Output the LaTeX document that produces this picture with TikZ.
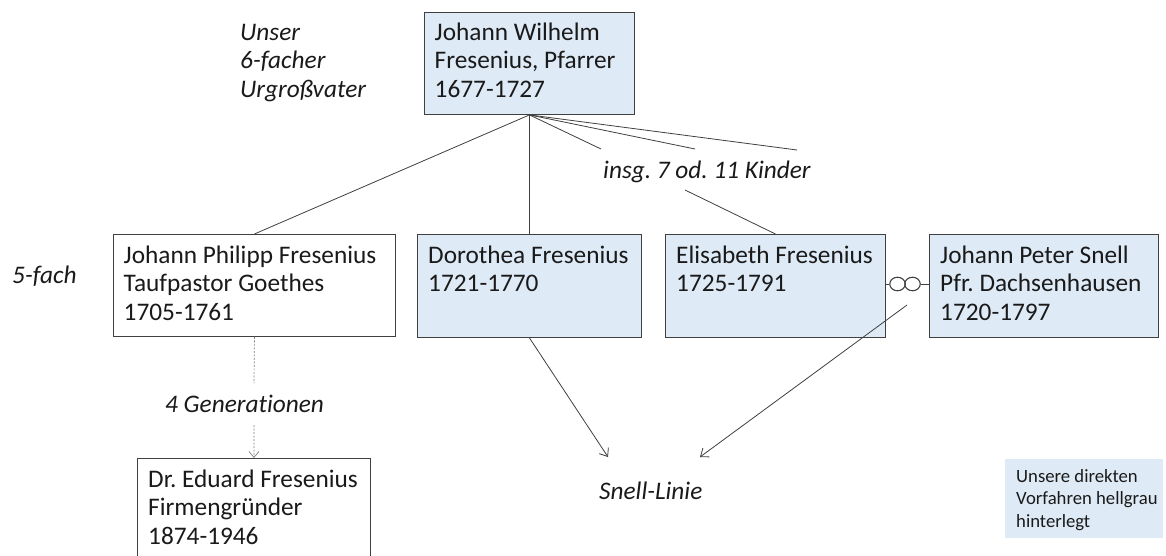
\documentclass[tikz,border=0pt]{standalone}
\usepackage{fontspec}
\setmainfont{Carlito}[Ligatures={NoCommon}]
\frenchspacing
\usetikzlibrary{arrows.meta,shapes.geometric}
\definecolor{boxfill}{HTML}{DEEAF6}
\definecolor{lineC}{HTML}{404040}
\definecolor{txtC}{HTML}{1A1A1A}
\newcommand\fstrut{\rule{0pt}{20pt}}
\newcommand\sstrut{\rule{0pt}{15pt}}
\begin{document}
\begin{tikzpicture}[x=1pt,y=-1pt,
  personbox/.style={draw=lineC, line width=0.9pt, rectangle, inner sep=0pt, anchor=north west},
  ancestor/.style={personbox, fill=boxfill},
  txt/.style={anchor=north west, inner sep=0pt, align=left, text=txtC, font=\fontsize{25.3}{28.5}\selectfont},
  itxt/.style={txt, font=\fontsize{25.3}{28.5}\selectfont\itshape},
  smalltxt/.style={anchor=north west, inner sep=0pt, align=left, text=txtC, font=\fontsize{18.7}{22.5}\selectfont},
  conn/.style={draw=lineC, line width=0.8pt},
  arr/.style={conn, -{Straight Barb[length=7pt,width=11pt]}},
  gen/.style={draw=gray, line width=0.7pt, dash pattern=on 2pt off 1.5pt},
  ring/.style={draw=lineC, line width=1.1pt, ellipse, inner sep=0pt, minimum width=15.5pt, minimum height=13.5pt}
]
\fill[white] (0,0) rectangle (1166,556);
\useasboundingbox (0,0) rectangle (1166,556);

% boxes
\node[ancestor, minimum width=210pt, minimum height=102pt] (top) at (424,12) {};
\node[personbox, minimum width=282pt, minimum height=102pt] (philipp) at (113,234) {};
\node[ancestor, minimum width=224pt, minimum height=103pt] (dorothea) at (417,234) {};
\node[ancestor, minimum width=220pt, minimum height=103pt] (elisabeth) at (665,234) {};
\node[ancestor, minimum width=229pt, minimum height=103pt] (snell) at (929,234) {};
\node[personbox, minimum width=233pt, minimum height=115pt] (eduard) at (137,458) {};
\node[fill=boxfill, rectangle, inner sep=0pt, anchor=north west, minimum width=158pt, minimum height=79pt] (legendbox) at (1005,459) {};

% texts
\node[txt] (ttop) at (434.5,20) {\fstrut Johann Wilhelm\\Fresenius, Pfarrer\\1677-1727};
\node[itxt] (unser) at (240,20) {\fstrut Unser\\6-facher\\Urgroßvater};
\node[txt] (tphilipp) at (123.5,243) {\fstrut Johann Philipp Fresenius\\Taufpastor Goethes\\1705-1761};
\node[txt] (tdorothea) at (428,243) {\fstrut Dorothea Fresenius\\1721-1770};
\node[txt] (telisabeth) at (676,243) {\fstrut Elisabeth Fresenius\\1725-1791};
\node[txt] (tsnell) at (940,243) {\fstrut Johann Peter Snell\\Pfr. Dachsenhausen\\1720-1797};
\node[txt] (teduard) at (148,467) {\fstrut Dr. Eduard Fresenius\\Firmengründer\\1874-1946};
\node[itxt] (fuenf) at (12,263) {\fstrut 5-fach};
\node[itxt] (kinder) at (603,158) {\fstrut insg. 7 od. 11 Kinder};
\node[itxt] (generationen) at (165,392) {\fstrut 4 Generationen};
\node[itxt] (snelllinie) at (599,479) {\fstrut Snell-Linie};
\node[smalltxt] (legend) at (1016,467) {\sstrut Unsere direkten\\Vorfahren hellgrau\\hinterlegt};

% children lines
\coordinate (c1) at (601,149);
\coordinate (c2) at (695,149);
\coordinate (c3) at (797,150);
\coordinate (k1) at (685,190);
\draw[conn] (top.south) -- (philipp.north);
\draw[conn] (top.south) -- (dorothea.north);
\draw[conn] (top.south) -- (c1);
\draw[conn] (top.south) -- (c2);
\draw[conn] (top.south) -- (c3);
\draw[conn] (k1) -- (elisabeth.north);

% marriage symbol
\node[ring] (r1) at (897.5,284) {};
\node[ring] (r2) at (912.5,284) {};
\draw[conn] (elisabeth.east |- r1) -- (r1.west);
\draw[conn] (r2.east) -- (snell.west |- r2);

% Snell line arrows
\coordinate (s0) at (907,305);
\coordinate (sl1) at (608,457);
\coordinate (sl2) at (700,457);
\draw[arr] (dorothea.south) -- (sl1);
\draw[arr] (s0) -- (sl2);

% generations
\coordinate (d1) at (254,383);
\coordinate (d2) at (254,425);
\draw[gen] (philipp.south) -- (d1);
\draw[gen, -{Straight Barb[length=6pt,width=10pt]}] (d2) -- (eduard.north);
\end{tikzpicture}
\end{document}
